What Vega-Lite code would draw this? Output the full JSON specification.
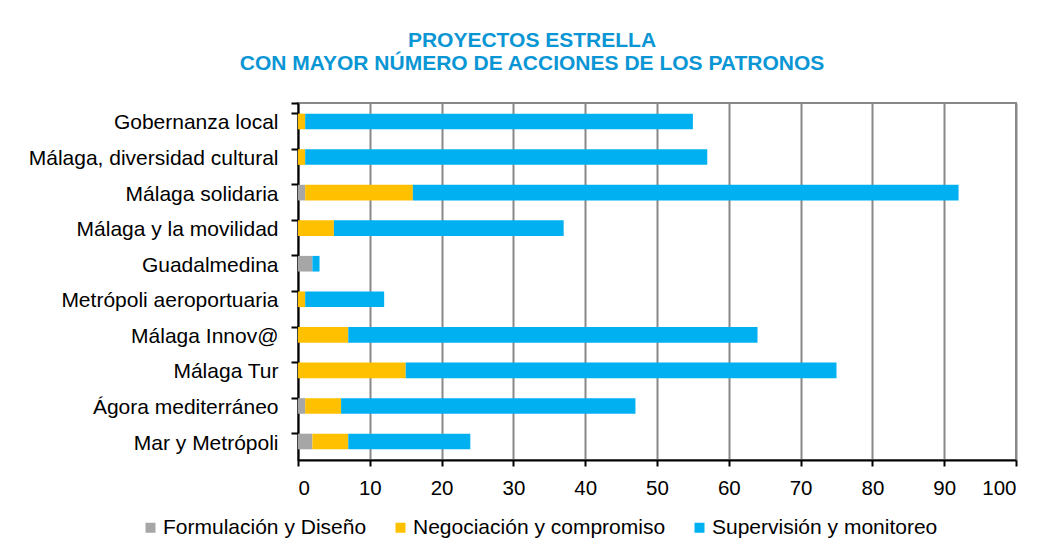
{
  "$schema": "https://vega.github.io/schema/vega-lite/v6.json",
  "width": 718,
  "height": 357,
  "autosize": {"type": "none"},
  "padding": {"left": 298, "top": 103, "right": 27, "bottom": 92},
  "background": "white",
  "config": {
    "font": "Liberation Sans",
    "view": {"stroke": "#888888", "strokeWidth": 2},
    "axis": {"labelFont": "Liberation Sans", "labelColor": "#000000"}
  },
  "title": {
    "text": ["PROYECTOS ESTRELLA", "CON MAYOR NÚMERO DE ACCIONES DE LOS PATRONOS"],
    "font": "Liberation Sans",
    "fontSize": 21,
    "fontWeight": "bold",
    "color": "#0A96D4",
    "anchor": "middle",
    "dx": -125,
    "lineHeight": 23,
    "offset": 18
  },
  "data": {
    "values": [
      {"proyecto": "Gobernanza local", "fase": "Formulación y Diseño", "orden": 1, "acciones": 0},
      {"proyecto": "Gobernanza local", "fase": "Negociación y compromiso", "orden": 2, "acciones": 1},
      {"proyecto": "Gobernanza local", "fase": "Supervisión y monitoreo", "orden": 3, "acciones": 54},
      {"proyecto": "Málaga, diversidad cultural", "fase": "Formulación y Diseño", "orden": 1, "acciones": 0},
      {"proyecto": "Málaga, diversidad cultural", "fase": "Negociación y compromiso", "orden": 2, "acciones": 1},
      {"proyecto": "Málaga, diversidad cultural", "fase": "Supervisión y monitoreo", "orden": 3, "acciones": 56},
      {"proyecto": "Málaga solidaria", "fase": "Formulación y Diseño", "orden": 1, "acciones": 1},
      {"proyecto": "Málaga solidaria", "fase": "Negociación y compromiso", "orden": 2, "acciones": 15},
      {"proyecto": "Málaga solidaria", "fase": "Supervisión y monitoreo", "orden": 3, "acciones": 76},
      {"proyecto": "Málaga y la movilidad", "fase": "Formulación y Diseño", "orden": 1, "acciones": 0},
      {"proyecto": "Málaga y la movilidad", "fase": "Negociación y compromiso", "orden": 2, "acciones": 5},
      {"proyecto": "Málaga y la movilidad", "fase": "Supervisión y monitoreo", "orden": 3, "acciones": 32},
      {"proyecto": "Guadalmedina", "fase": "Formulación y Diseño", "orden": 1, "acciones": 2},
      {"proyecto": "Guadalmedina", "fase": "Negociación y compromiso", "orden": 2, "acciones": 0},
      {"proyecto": "Guadalmedina", "fase": "Supervisión y monitoreo", "orden": 3, "acciones": 1},
      {"proyecto": "Metrópoli aeroportuaria", "fase": "Formulación y Diseño", "orden": 1, "acciones": 0},
      {"proyecto": "Metrópoli aeroportuaria", "fase": "Negociación y compromiso", "orden": 2, "acciones": 1},
      {"proyecto": "Metrópoli aeroportuaria", "fase": "Supervisión y monitoreo", "orden": 3, "acciones": 11},
      {"proyecto": "Málaga Innov@", "fase": "Formulación y Diseño", "orden": 1, "acciones": 0},
      {"proyecto": "Málaga Innov@", "fase": "Negociación y compromiso", "orden": 2, "acciones": 7},
      {"proyecto": "Málaga Innov@", "fase": "Supervisión y monitoreo", "orden": 3, "acciones": 57},
      {"proyecto": "Málaga Tur", "fase": "Formulación y Diseño", "orden": 1, "acciones": 0},
      {"proyecto": "Málaga Tur", "fase": "Negociación y compromiso", "orden": 2, "acciones": 15},
      {"proyecto": "Málaga Tur", "fase": "Supervisión y monitoreo", "orden": 3, "acciones": 60},
      {"proyecto": "Ágora mediterráneo", "fase": "Formulación y Diseño", "orden": 1, "acciones": 1},
      {"proyecto": "Ágora mediterráneo", "fase": "Negociación y compromiso", "orden": 2, "acciones": 5},
      {"proyecto": "Ágora mediterráneo", "fase": "Supervisión y monitoreo", "orden": 3, "acciones": 41},
      {"proyecto": "Mar y Metrópoli", "fase": "Formulación y Diseño", "orden": 1, "acciones": 2},
      {"proyecto": "Mar y Metrópoli", "fase": "Negociación y compromiso", "orden": 2, "acciones": 5},
      {"proyecto": "Mar y Metrópoli", "fase": "Supervisión y monitoreo", "orden": 3, "acciones": 17}
    ]
  },
  "mark": {"type": "bar"},
  "encoding": {
    "y": {
      "field": "proyecto",
      "type": "nominal",
      "sort": null,
      "scale": {"paddingInner": 0.56, "paddingOuter": 0.3},
      "axis": {
        "title": null,
        "bandPosition": 0,
        "tickExtra": true,
        "tickSize": 7,
        "tickWidth": 2,
        "tickColor": "#000000",
        "domainColor": "#000000",
        "domainWidth": 2,
        "labelFontSize": 21,
        "labelPadding": 13,
        "labelOffset": 2,
        "labelLimit": 400,
        "grid": false
      }
    },
    "x": {
      "field": "acciones",
      "type": "quantitative",
      "stack": "zero",
      "scale": {"domain": [0, 100], "nice": false},
      "axis": {
        "title": null,
        "values": [0, 10, 20, 30, 40, 50, 60, 70, 80, 90, 100],
        "tickSize": 6,
        "tickWidth": 2,
        "tickColor": "#000000",
        "domainColor": "#000000",
        "domainWidth": 2,
        "labelFontSize": 20.5,
        "labelPadding": 12,
        "grid": true,
        "gridColor": "#888888",
        "gridWidth": 2
      }
    },
    "color": {
      "field": "fase",
      "type": "nominal",
      "scale": {
        "domain": ["Formulación y Diseño", "Negociación y compromiso", "Supervisión y monitoreo"],
        "range": ["#A6A6A6", "#FFC000", "#00B0F0"]
      },
      "legend": {
        "title": null,
        "orient": "none",
        "direction": "horizontal",
        "legendX": -158,
        "legendY": 414,
        "padding": 0,
        "symbolType": "square",
        "symbolSize": 100,
        "symbolStrokeWidth": 0,
        "symbolOpacity": 1,
        "labelFontSize": 21,
        "labelFont": "Liberation Sans",
        "labelColor": "#000000",
        "labelOffset": 2,
        "columnPadding": 23,
        "labelLimit": 400
      }
    },
    "order": {"field": "orden", "type": "quantitative"}
  }
}
